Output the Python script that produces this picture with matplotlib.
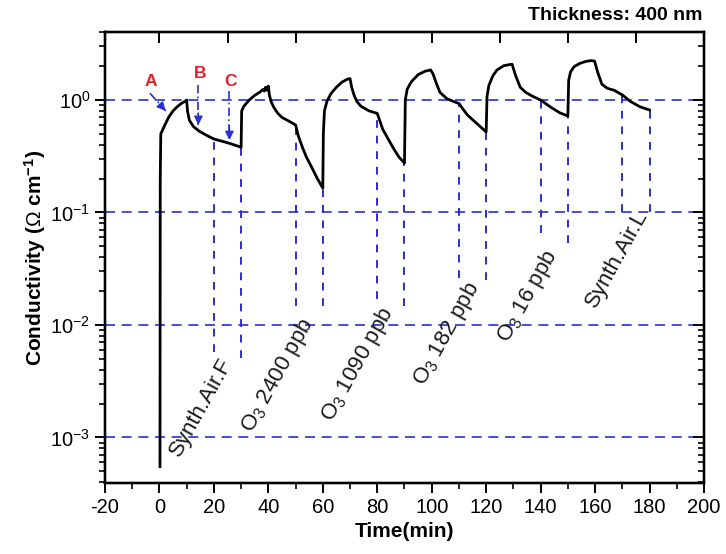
import numpy as np
import matplotlib
matplotlib.use('Agg')
import matplotlib.pyplot as plt
from matplotlib.ticker import MultipleLocator, LogLocator, NullFormatter

plt.rcParams['font.family'] = ['Liberation Sans', 'DejaVu Sans']
plt.rcParams['mathtext.fontset'] = 'custom'
plt.rcParams['mathtext.rm'] = 'Liberation Sans'
plt.rcParams['mathtext.it'] = 'Liberation Sans:italic'
plt.rcParams['mathtext.bf'] = 'Liberation Sans:bold'
plt.rcParams['axes.unicode_minus'] = False

# Conductivity trace, one piece per gas step (time in min, sigma in Ohm^-1 cm^-1)
seg1_t = [0.2, 0.25, 0.3, 0.5, 1.0, 2.0, 3.5, 5.0, 6.5, 8.0, 9.3, 10.0,
          10.3, 11.0, 12.5, 14.5, 17.0, 20.0, 23.0, 26.0, 30.0]
seg1_s = [5.5e-4, 0.01, 0.2, 0.5, 0.53, 0.6, 0.71, 0.8, 0.87, 0.93, 0.97, 1.0,
          0.8, 0.66, 0.58, 0.53, 0.49, 0.45, 0.43, 0.41, 0.38]

seg2_t = [30.2, 31.0, 33.0, 35.0, 37.0, 38.0, 38.5, 39.0, 39.5, 40.0, 40.4,
          41.0, 42.0, 43.5, 45.0, 47.5, 50.0, 51.0, 52.5, 54.0, 56.0, 58.0, 60.0]
seg2_s = [0.8, 0.88, 1.0, 1.1, 1.18, 1.24, 1.2, 1.3, 1.22, 1.33, 1.1,
          0.97, 0.86, 0.76, 0.7, 0.65, 0.6, 0.48, 0.38, 0.31, 0.25, 0.2, 0.165]

seg3_t = [60.2, 60.6, 61.5, 63.0, 65.0, 67.0, 69.0, 70.0, 70.6, 71.5, 72.5,
          74.0, 77.0, 80.0, 82.0, 84.0, 86.0, 88.0, 90.0]
seg3_s = [0.5, 0.8, 0.97, 1.14, 1.3, 1.44, 1.53, 1.55, 1.3, 1.1, 0.97,
          0.88, 0.8, 0.76, 0.55, 0.45, 0.37, 0.31, 0.275]

seg4_t = [90.3, 91.0, 92.5, 95.0, 97.5, 99.6, 100.5, 101.5, 103.0, 105.5,
          108.0, 110.0, 113.0, 116.5, 120.0]
seg4_s = [1.0, 1.25, 1.45, 1.68, 1.8, 1.85, 1.7, 1.45, 1.17, 1.03,
          0.97, 0.93, 0.74, 0.62, 0.52]

seg5_t = [120.3, 121.0, 122.5, 124.0, 126.5, 129.5, 130.8, 132.5, 134.5,
          137.0, 140.0, 143.5, 147.0, 150.0]
seg5_s = [1.07, 1.35, 1.65, 1.85, 2.02, 2.08, 1.65, 1.3, 1.17,
          1.08, 1.0, 0.87, 0.77, 0.72]

seg6_t = [150.3, 151.0, 152.3, 154.5, 156.5, 158.5, 159.8, 161.0, 162.5,
          164.5, 167.0, 170.0, 173.0, 176.5, 180.0]
seg6_s = [1.5, 1.78, 1.98, 2.12, 2.2, 2.24, 2.22, 1.75, 1.38,
          1.27, 1.22, 1.11, 0.97, 0.87, 0.815]

# gas switching times and where each dashed marker line ends
switch_times = [20, 30, 50, 60, 80, 90, 110, 120, 140, 150, 170, 180]
switch_bottom = [5.7e-3, 5.1e-3, 0.0146, 0.0146, 0.017, 0.0146,
                 0.026, 0.025, 0.066, 0.054, 0.1, 0.1]

# gas step labels and the end point of each label
gas_labels = ['Synth.Air.F', 'O$_3$ 2400 ppb', 'O$_3$ 1090 ppb',
              'O$_3$ 182 ppb', 'O$_3$ 16 ppb', 'Synth.Air.L']
gas_label_t = [28.5, 58.8, 88.3, 119.6, 148.3, 181.0]
gas_label_s = [4.4e-3, 0.0098, 0.0122, 0.0205, 0.040, 0.092]

# A/B/C markers: text position, arrow start and arrow tip
mark_names = ['A', 'B', 'C']
mark_text = [(-3.0, 1.45), (15.0, 1.72), (26.0, 1.45)]
mark_from = [(-3.5, 1.15), (14.3, 1.36), (25.7, 1.19)]
mark_to = [(2.3, 0.8), (14.3, 0.6), (25.7, 0.44)]

BLUE = '#2a2fd0'

t = np.concatenate([seg1_t, seg2_t, seg3_t, seg4_t, seg5_t, seg6_t])
s = np.concatenate([seg1_s, seg2_s, seg3_s, seg4_s, seg5_s, seg6_s])

fig = plt.figure(figsize=(7.26, 5.54), dpi=100)
ax = fig.add_axes([0.1446, 0.1282, 0.8251, 0.814])
ax.set_yscale('log')
ax.set_xlim(-20, 200)
ax.set_ylim(3.94e-4, 4.02)

# horizontal decade lines
for level in [1e-3, 1e-2, 1e-1, 1e0]:
    ax.axhline(level, color=BLUE, lw=1.2, ls=(0, (6, 4)), zorder=1)

# vertical lines at each gas switch, from the trace down to the label
for ts, bottom in zip(switch_times, switch_bottom):
    top = np.interp(ts, t, s)
    ax.plot([ts, ts], [bottom, top], color=BLUE, lw=1.4, ls=(0, (4, 4)), zorder=1)

ax.plot(t, s, color='black', lw=2.0, zorder=3)

for label, lt, ls_ in zip(gas_labels, gas_label_t, gas_label_s):
    ax.text(lt, ls_, label, rotation=61, rotation_mode='anchor',
            ha='right', va='bottom', fontsize=16, color='#1a1a1a')

for name, pt, p0, p1 in zip(mark_names, mark_text, mark_from, mark_to):
    ax.text(pt[0], pt[1], name, color='#e0202a', fontsize=12.5,
            fontweight='bold', ha='center', va='center')
    ax.plot([p0[0], p1[0]], [p0[1], p1[1]], color=BLUE, lw=1.2,
            ls=(0, (5, 2, 1, 2)), zorder=4)
    ax.annotate('', xy=p1, xytext=(p0[0] + 0.7 * (p1[0] - p0[0]),
                                   p0[1] * (p1[1] / p0[1]) ** 0.7),
                arrowprops=dict(arrowstyle='-|>', color=BLUE, lw=1.0,
                                mutation_scale=13, shrinkA=0, shrinkB=0),
                zorder=4)

# axis styling
for sp in ax.spines.values():
    sp.set_linewidth(1.6)
ax.xaxis.set_major_locator(MultipleLocator(20))
ax.xaxis.set_minor_locator(MultipleLocator(10))
ax.yaxis.set_major_locator(LogLocator(base=10, numticks=10))
ax.yaxis.set_minor_locator(LogLocator(base=10, subs=np.arange(2, 10), numticks=10))
ax.yaxis.set_minor_formatter(NullFormatter())
ax.tick_params(which='major', direction='out', length=7, width=1.4, labelsize=14.5,
               top=False, right=False)
ax.tick_params(which='minor', direction='out', length=4, width=1.2,
               top=False, right=False)

# top and right axes: inward ticks only
axt = ax.twiny()
axt.set_xlim(ax.get_xlim())
axt.xaxis.set_major_locator(MultipleLocator(25))
axt.tick_params(direction='in', length=8, width=1.4, labeltop=False)
axr = ax.twinx()
axr.set_yscale('log')
axr.set_ylim(ax.get_ylim())
axr.yaxis.set_minor_locator(LogLocator(base=10, subs=np.arange(2, 10), numticks=10))
axr.tick_params(which='major', direction='in', length=8, width=1.4, labelright=False)
axr.tick_params(which='minor', direction='in', length=4, width=1.2, labelright=False)
for a in (axt, axr):
    for sp in a.spines.values():
        sp.set_linewidth(1.6)

ax.set_xlabel('Time(min)', fontsize=15, fontweight='bold', labelpad=4)
ax.set_ylabel(r'Conductivity ($\Omega$ cm$^{\mathbf{-1}}$)', fontsize=15,
              fontweight='bold', labelpad=2)

fig.text(0.967, 0.972, 'Thickness: 400 nm', ha='right', va='center',
         fontsize=14, fontweight='bold')

fig.savefig('out.png', dpi=100)
